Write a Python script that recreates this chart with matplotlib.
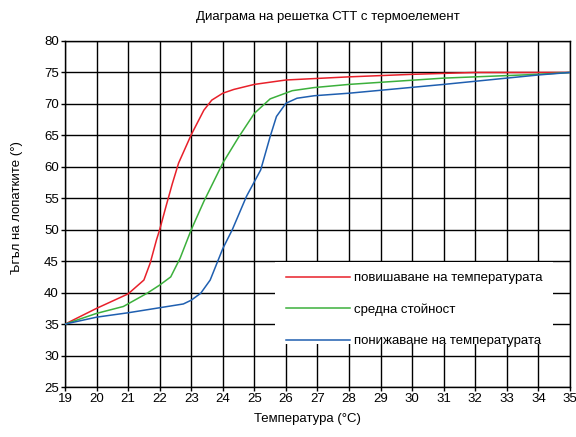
import numpy as np
import matplotlib.pyplot as plt
from matplotlib.patches import Rectangle

plt.rcParams['font.family'] = ['Liberation Sans', 'DejaVu Sans']

# данни, отчетени от графиката
temp_heat = [19, 20, 21, 21.5, 21.7, 21.9, 22.0, 22.2, 22.4, 22.6, 23.0, 23.4, 23.65,
             24.0, 24.35, 25.0, 26.0, 28.0, 30.0, 32.0, 35.0]
angle_heat = [35, 37.5, 39.8, 42.0, 44.7, 48.4, 50.0, 53.7, 57.3, 60.6, 65.1, 69.0, 70.6,
              71.7, 72.3, 73.1, 73.8, 74.3, 74.7, 75.0, 75.0]

temp_mean = [19, 20, 20.85, 21.6, 22.0, 22.35, 22.65, 23.0, 23.4, 24.0, 24.5, 25.0, 25.5,
             26.2, 26.9, 28.0, 31.0, 34.0, 35.0]
angle_mean = [35, 36.7, 37.8, 39.9, 41.2, 42.5, 45.5, 50.0, 54.5, 60.6, 64.7, 68.5, 70.8,
              72.1, 72.6, 73.1, 74.1, 74.7, 75.0]

temp_cool = [19, 20, 21, 22, 22.75, 23.0, 23.3, 23.6, 24.0, 24.3, 24.75, 25.2, 25.5,
             25.7, 26.0, 26.35, 26.9, 28.0, 31.0, 34.0, 35.0]
angle_cool = [35, 36.1, 36.8, 37.6, 38.2, 38.8, 39.9, 42.0, 47.0, 50.0, 55.3, 59.5, 64.8,
              68.0, 70.1, 70.9, 71.3, 71.7, 73.1, 74.6, 75.0]

labels = ['повишаване на температурата', 'средна стойност', 'понижаване на температурата']
x_ticks = np.arange(19, 36, 1)
y_ticks = np.arange(25, 81, 5)

fig = plt.figure(figsize=(5.76, 4.37), dpi=100)
ax = fig.add_axes([0.1128, 0.1144, 0.8768, 0.7918])

ax.plot(temp_heat, angle_heat, color='#e8202a', lw=1.1, label=labels[0], zorder=3)
ax.plot(temp_mean, angle_mean, color='#3cb03c', lw=1.1, label=labels[1], zorder=3)
ax.plot(temp_cool, angle_cool, color='#1f5fb0', lw=1.1, label=labels[2], zorder=3)

ax.set_xlim(19, 35)
ax.set_ylim(25, 80)
ax.set_xticks(x_ticks)
ax.set_yticks(y_ticks)
ax.grid(True, color='black', linewidth=1)
ax.tick_params(direction='out', length=3, width=1, labelsize=9.5, colors='black', pad=1.5)
for s in ax.spines.values():
    s.set_color('black')
    s.set_linewidth(1)

# бял фон под легендата
ax.add_patch(Rectangle((0.416, 0.124), 0.55, 0.237, transform=ax.transAxes,
                       facecolor='white', edgecolor='none', zorder=2))
ax.legend(loc='upper left', bbox_to_anchor=(0.415, 0.366), frameon=False,
          fontsize=9.5, handlelength=4.8, labelspacing=1.45, handletextpad=0.3)

fig.text(0.57, 0.962, 'Диаграма на решетка СТТ с термоелемент', ha='center', va='center', fontsize=9.5)
fig.text(0.533, 0.042, 'Температура (°C)', ha='center', va='center', fontsize=9.5)
fig.text(0.03, 0.525, 'Ъгъл на лопатките (°)', ha='center', va='center', rotation=90, fontsize=9.5)

plt.savefig('out.png', dpi=100)
